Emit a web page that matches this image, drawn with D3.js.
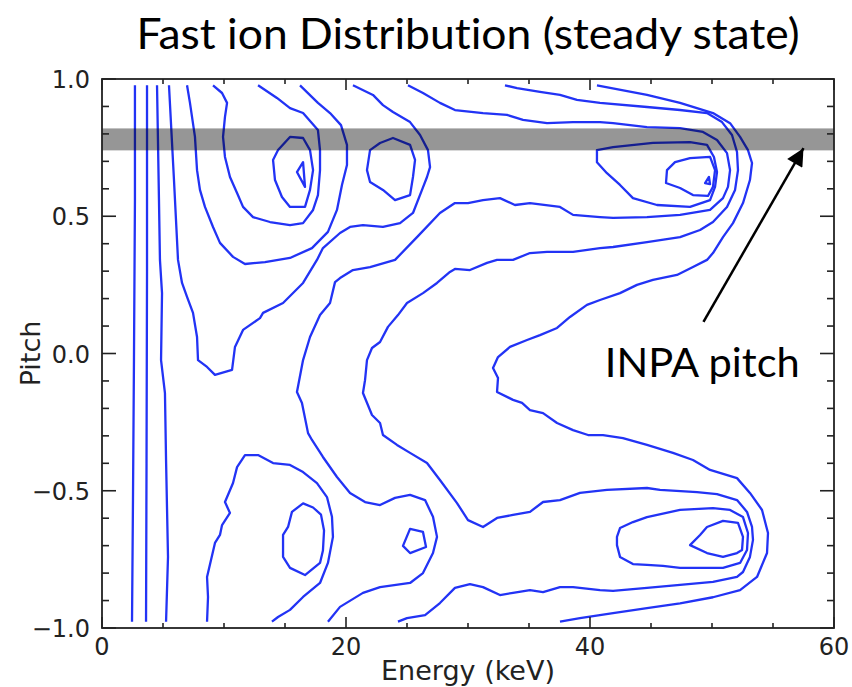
<!DOCTYPE html>
<html>
<head>
<meta charset="utf-8">
<script src="https://cdn.jsdelivr.net/npm/d3@7/dist/d3.min.js"></script>
<style>
  body { margin: 0; background: #fff; }
  text { font-variant-ligatures: none; }
</style>
</head>
<body>
<svg id="chart" width="852" height="687"></svg>
<script>
//***************************************************************************
// Data (energy in keV, pitch)

var energyMajor = [0, 20, 40, 60];
var energyMinor = [5, 10, 15, 25, 30, 35, 45, 50, 55];
var pitchMajor = [-1.0, -0.5, 0.0, 0.5, 1.0];
var pitchMinor = [-0.9, -0.8, -0.7, -0.6, -0.4, -0.3, -0.2, -0.1, 0.1, 0.2, 0.3, 0.4, 0.6, 0.7, 0.8, 0.9];

var inpaBand = [0.74, 0.82];          // pitch range of the grey band
var arrowFrom = [49.3, 0.115];        // energy, pitch
var arrowTo = [57.5, 0.748];
var labelAt = [49.2, -0.086];

// open contours (end on the grid border)
var lowA = [[2.70,0.977],[2.70,0.559],[2.62,-0.024],[2.54,-0.53],[2.46,-0.977]];
var lowB = [[3.69,0.977],[3.69,0.30],[3.65,-0.40],[3.61,-0.977]];
var lowC = [[4.51,0.977],[4.67,0.559],[4.75,0.341],[4.92,0.220],[4.84,-0.024],[5.16,-0.144],[5.25,-0.388],[5.41,-0.741],[5.25,-0.977]];
var upperOuter = [[5.49,0.977],[5.90,0.632],[6.23,0.341],[6.56,0.257],[6.97,0.206],[7.46,0.148],[7.79,0.060],[7.87,-0.024],
  [8.61,-0.049],[9.26,-0.078],[10.66,-0.060],[10.90,0.024],[11.56,0.086],[12.95,0.129],[13.20,0.148],[14.84,0.184],
  [16.48,0.257],[17.62,0.341],[18.11,0.384],[19.51,0.439],[20.33,0.461],[21.39,0.468],[23.03,0.461],[24.43,0.475],
  [25.49,0.512],[26.23,0.596],[26.64,0.643],[26.89,0.679],[26.72,0.741],[26.07,0.796],[25.25,0.843],[23.85,0.880],
  [23.03,0.905],[22.21,0.942],[20.57,0.977]];
var upperLeft1 = [[6.97,0.977],[7.21,0.913],[7.62,0.789],[7.79,0.668],[8.03,0.596],[8.44,0.534],[9.10,0.461],[9.67,0.403],
  [10.74,0.352],[11.72,0.326],[13.36,0.333],[15.41,0.348],[17.21,0.384],[18.52,0.443],[19.26,0.523],[19.67,0.614],
  [20.08,0.687],[20.08,0.760],[19.59,0.832],[18.69,0.876],[17.70,0.913],[16.23,0.977]];
var upperLeft2 = [[9.10,0.977],[9.84,0.949],[10.25,0.913],[10.08,0.862],[9.92,0.789],[10.08,0.716],[10.49,0.643],[11.07,0.585],
  [11.56,0.534],[12.38,0.497],[13.77,0.479],[15.41,0.468],[16.48,0.475],[17.30,0.523],[17.70,0.577],[17.87,0.668],
  [17.87,0.741],[17.70,0.814],[16.48,0.876],[15.41,0.894],[14.34,0.931],[12.79,0.977]];
var rightOuter = [[40.57,0.977],[44.67,0.942],[47.38,0.913],[50.08,0.876],[51.48,0.839],[52.30,0.789],[52.95,0.741],[53.28,0.694],
  [53.11,0.632],[52.54,0.548],[51.72,0.475],[50.90,0.424],[50.08,0.366],[49.59,0.341],[48.44,0.315],[47.13,0.286],
  [45.16,0.268],[43.85,0.250],[42.46,0.220],[40.82,0.195],[39.75,0.177],[38.36,0.133],[37.30,0.093],[35.90,0.067],
  [34.84,0.049],[33.44,0.024],[32.46,-0.013],[32.05,-0.053],[32.46,-0.089],[32.38,-0.140],[33.69,-0.169],[34.43,-0.180],
  [35.08,-0.206],[36.15,-0.217],[37.30,-0.253],[38.61,-0.279],[39.84,-0.297],[41.07,-0.297],[42.70,-0.308],[44.67,-0.333],
  [46.80,-0.362],[48.44,-0.388],[49.84,-0.424],[52.05,-0.454],[53.11,-0.508],[54.10,-0.570],[54.59,-0.654],[54.51,-0.727],
  [53.69,-0.814],[52.30,-0.862],[50.08,-0.888],[47.38,-0.910],[44.67,-0.928],[41.89,-0.946],[39.18,-0.964],[37.54,-0.977]];
var rightMiddle = [[33.03,0.977],[34.02,0.967],[35.90,0.953],[37.54,0.942],[38.93,0.924],[40.82,0.913],[44.67,0.898],[47.38,0.887],
  [49.59,0.876],[50.82,0.843],[51.64,0.796],[52.05,0.734],[52.13,0.668],[51.89,0.596],[51.23,0.534],[50.08,0.479],
  [49.02,0.450],[47.38,0.424],[44.67,0.406],[41.89,0.388],[40.82,0.384],[38.61,0.370],[36.48,0.370],[35.08,0.366],
  [33.69,0.341],[32.38,0.341],[31.56,0.330],[30.16,0.304],[28.93,0.308],[28.52,0.297],[27.46,0.257],[26.31,0.220],
  [25.00,0.184],[24.26,0.140],[23.44,0.097],[22.79,0.042],[22.13,0.020],[21.72,-0.024],[21.56,-0.097],[21.39,-0.144],
  [22.13,-0.224],[22.79,-0.253],[23.03,-0.297],[24.18,-0.333],[25.25,-0.362],[26.64,-0.399],[27.70,-0.461],[29.10,-0.545],
  [30.00,-0.607],[31.23,-0.632],[32.38,-0.599],[33.69,-0.588],[35.08,-0.577],[36.15,-0.541],[37.54,-0.534],[39.18,-0.508],
  [41.39,-0.497],[44.67,-0.490],[45.74,-0.497],[48.77,-0.505],[50.41,-0.512],[52.05,-0.534],[52.87,-0.577],[53.28,-0.632],
  [53.36,-0.679],[53.11,-0.741],[52.54,-0.796],[52.05,-0.814],[50.08,-0.832],[47.38,-0.843],[44.67,-0.854],[41.89,-0.865],
  [40.82,-0.862],[38.61,-0.851],[37.54,-0.851],[36.15,-0.869],[35.08,-0.862],[33.69,-0.872],[32.62,-0.880],[31.23,-0.851],
  [30.16,-0.840],[28.93,-0.854],[27.70,-0.909],[26.48,-0.953],[25.00,-0.964],[24.26,-0.977]];
var rightInner = [[25.08,0.977],[26.31,0.949],[27.70,0.913],[28.93,0.887],[31.23,0.876],[33.20,0.869],[34.51,0.851],[36.48,0.839],
  [38.61,0.843],[40.82,0.843],[41.89,0.839],[44.67,0.825],[47.38,0.821],[49.26,0.807],[50.41,0.778],[51.23,0.730],
  [51.48,0.668],[51.31,0.607],[50.90,0.566],[49.84,0.523],[47.38,0.505],[44.67,0.497],[41.89,0.494],[40.82,0.497],
  [38.61,0.505],[37.54,0.534],[35.08,0.548],[33.85,0.541],[32.62,0.566],[31.23,0.559],[30.00,0.548],[28.93,0.548],
  [27.70,0.512],[25.82,0.424],[24.02,0.341],[21.97,0.315],[20.57,0.304],[19.51,0.275],[19.10,0.260],[18.69,0.184],
  [17.87,0.140],[17.05,0.060],[16.48,-0.024],[15.98,-0.140],[16.39,-0.180],[16.89,-0.290],[17.21,-0.315],[18.11,-0.377],
  [19.26,-0.450],[20.33,-0.508],[21.56,-0.541],[22.79,-0.552],[24.02,-0.526],[25.25,-0.515],[26.48,-0.534],[27.13,-0.595],
  [27.46,-0.668],[27.13,-0.727],[26.31,-0.800],[25.25,-0.836],[22.79,-0.851],[21.39,-0.872],[19.51,-0.923],[18.52,-0.977]];
var lowerLeft1 = [[8.61,-0.977],[8.69,-0.887],[8.61,-0.814],[9.26,-0.690],[9.67,-0.661],[9.84,-0.625],[10.49,-0.581],[10.08,-0.541],
  [10.74,-0.472],[11.07,-0.414],[11.72,-0.370],[12.79,-0.370],[14.02,-0.399],[15.41,-0.406],[16.48,-0.432],[17.62,-0.472],
  [18.44,-0.523],[18.85,-0.595],[18.93,-0.668],[18.52,-0.763],[17.87,-0.836],[16.48,-0.887],[15.41,-0.934],[14.43,-0.960],
  [13.93,-0.977]];

// closed contours
var upperLeft3 = [[15.41,0.789],[16.48,0.785],[17.05,0.741],[17.30,0.668],[17.05,0.596],[16.64,0.534],[15.41,0.534],[14.75,0.570],
  [14.18,0.632],[14.02,0.705],[14.43,0.741]];
var upperLeft4 = [[15.98,0.661],[16.48,0.697],[16.64,0.607]];
var upperSmall = [[21.97,0.741],[22.79,0.767],[23.85,0.785],[25.25,0.760],[25.66,0.705],[25.49,0.643],[25.25,0.577],[24.02,0.559],
  [23.03,0.596],[21.97,0.625],[21.72,0.668]];
var upperRight1 = [[40.57,0.741],[41.89,0.752],[45.16,0.767],[48.20,0.770],[49.59,0.760],[50.16,0.716],[50.41,0.661],[50.25,0.607],
  [49.84,0.559],[48.20,0.534],[45.49,0.541],[43.52,0.566],[42.46,0.614],[41.39,0.657],[40.57,0.697]];
var upperRight2 = [[46.31,0.668],[46.97,0.697],[48.20,0.712],[49.84,0.716],[50.25,0.668],[50.08,0.607],[49.67,0.574],[48.44,0.577],
  [47.38,0.603],[46.23,0.621]];
var upperRight3 = [[49.43,0.621],[49.75,0.643],[49.84,0.617]];
var lowerLeft2 = [[16.48,-0.546],[17.30,-0.561],[17.95,-0.587],[18.20,-0.645],[18.11,-0.718],[17.87,-0.763],[16.64,-0.807],[15.41,-0.781],
  [14.84,-0.741],[14.84,-0.661],[15.25,-0.632],[15.57,-0.577]];
var lowerSmall = [[25.25,-0.639],[26.31,-0.650],[26.56,-0.705],[25.25,-0.727],[24.67,-0.701]];
var lowerRight1 = [[42.21,-0.668],[42.46,-0.636],[43.52,-0.614],[44.67,-0.596],[47.38,-0.570],[50.08,-0.563],[51.48,-0.570],[52.54,-0.596],
  [52.95,-0.654],[52.87,-0.716],[52.30,-0.763],[50.90,-0.781],[47.38,-0.781],[45.98,-0.774],[44.67,-0.770],[43.52,-0.767],
  [42.46,-0.741],[42.21,-0.698]];
var lowerRight2 = [[48.20,-0.698],[49.02,-0.661],[49.59,-0.632],[50.90,-0.610],[52.13,-0.617],[52.54,-0.668],[52.46,-0.716],[52.05,-0.727],
  [50.90,-0.741],[49.59,-0.727]];

var openContours = [lowA, lowB, lowC, upperOuter, upperLeft1, upperLeft2, rightOuter, rightMiddle, rightInner, lowerLeft1];
var closedContours = [upperLeft3, upperLeft4, upperSmall, upperRight1, upperRight2, upperRight3, lowerLeft2, lowerSmall, lowerRight1, lowerRight2];

//***************************************************************************
// Layout

var svg = d3.select("#chart");
var plot = {left: 102, right: 834, top: 79, bottom: 628};

var x = d3.scaleLinear().domain([0, 60]).range([plot.left, plot.right]);
var y = d3.scaleLinear().domain([-1, 1]).range([plot.bottom, plot.top]);

var contourColor = "#2233f5";
var frameColor = "#222";

svg.append("defs").append("clipPath").attr("id", "plotclip")
  .append("rect")
  .attr("x", plot.left).attr("y", plot.top)
  .attr("width", plot.right - plot.left).attr("height", plot.bottom - plot.top);

var g = svg.append("g").attr("clip-path", "url(#plotclip)");

var openLine = d3.line()
  .x(function(d) { return x(d[0]); })
  .y(function(d) { return y(d[1]); });

var closedLine = d3.line()
  .x(function(d) { return x(d[0]); })
  .y(function(d) { return y(d[1]); })
  .curve(d3.curveLinearClosed);

g.selectAll("path.open")
  .data(openContours)
  .enter().append("path")
  .attr("class", "open")
  .attr("d", openLine)
  .attr("fill", "none")
  .attr("stroke", contourColor)
  .attr("stroke-width", 2.3)
  .attr("stroke-linejoin", "round");

g.selectAll("path.closed")
  .data(closedContours)
  .enter().append("path")
  .attr("class", "closed")
  .attr("d", closedLine)
  .attr("fill", "none")
  .attr("stroke", contourColor)
  .attr("stroke-width", 2.3)
  .attr("stroke-linejoin", "round");

// INPA band, translucent, over the contours
g.append("rect")
  .attr("x", plot.left)
  .attr("y", y(inpaBand[1]))
  .attr("width", plot.right - plot.left)
  .attr("height", y(inpaBand[0]) - y(inpaBand[1]))
  .attr("fill", "#000")
  .attr("fill-opacity", 0.41);

//***************************************************************************
// Frame and ticks (pointing inwards on all four sides)

svg.append("rect")
  .attr("x", plot.left).attr("y", plot.top)
  .attr("width", plot.right - plot.left).attr("height", plot.bottom - plot.top)
  .attr("fill", "none").attr("stroke", frameColor).attr("stroke-width", 1.8);

function xTicks(values, len) {
  values.forEach(function(v) {
    svg.append("line").attr("x1", x(v)).attr("x2", x(v))
      .attr("y1", plot.bottom).attr("y2", plot.bottom - len)
      .attr("stroke", frameColor).attr("stroke-width", 1.6);
    svg.append("line").attr("x1", x(v)).attr("x2", x(v))
      .attr("y1", plot.top).attr("y2", plot.top + len)
      .attr("stroke", frameColor).attr("stroke-width", 1.6);
  });
}
function yTicks(values, len) {
  values.forEach(function(v) {
    svg.append("line").attr("y1", y(v)).attr("y2", y(v))
      .attr("x1", plot.left).attr("x2", plot.left + len)
      .attr("stroke", frameColor).attr("stroke-width", 1.6);
    svg.append("line").attr("y1", y(v)).attr("y2", y(v))
      .attr("x1", plot.right).attr("x2", plot.right - len)
      .attr("stroke", frameColor).attr("stroke-width", 1.6);
  });
}
xTicks(energyMajor, 11);
xTicks(energyMinor, 5);
yTicks(pitchMajor, 14);
yTicks(pitchMinor, 7);

svg.selectAll("text.xlab")
  .data(energyMajor)
  .enter().append("text")
  .attr("class", "xlab")
  .attr("x", function(d) { return x(d); })
  .attr("y", plot.bottom + 27)
  .attr("text-anchor", "middle")
  .style("font-family", "DejaVu Sans")
  .style("font-size", "24px")
  .attr("fill", "#222")
  .text(function(d) { return d3.format("d")(d); });

svg.selectAll("text.ylab")
  .data(pitchMajor)
  .enter().append("text")
  .attr("class", "ylab")
  .attr("x", plot.left - 12)
  .attr("y", function(d) { return y(d) + 9; })
  .attr("text-anchor", "end")
  .style("font-family", "DejaVu Sans")
  .style("font-size", "24px")
  .attr("fill", "#222")
  .text(function(d) { return d3.format(".1f")(d).replace("-", "\u2212"); });

svg.append("text")
  .attr("x", (plot.left + plot.right) / 2)
  .attr("y", 680)
  .attr("text-anchor", "middle")
  .style("font-family", "DejaVu Sans")
  .style("font-size", "27px")
  .attr("fill", "#222")
  .text("Energy (keV)");

svg.append("text")
  .attr("transform", "translate(40," + y(0) + ") rotate(-90)")
  .attr("text-anchor", "middle")
  .style("font-family", "DejaVu Sans")
  .style("font-size", "27px")
  .attr("fill", "#222")
  .text("Pitch");

//***************************************************************************
// Title and annotation

svg.append("text")
  .attr("x", 468)
  .attr("y", 49)
  .attr("text-anchor", "middle")
  .attr("textLength", 663)
  .attr("lengthAdjust", "spacingAndGlyphs")
  .style("font-family", "Lato")
  .style("font-size", "43px")
  .attr("fill", "#000")
  .text("Fast ion Distribution (steady state)");

svg.append("defs").append("marker")
  .attr("id", "head")
  .attr("viewBox", "0 0 10 10")
  .attr("refX", 10).attr("refY", 5)
  .attr("markerWidth", 8).attr("markerHeight", 7)
  .attr("markerUnits", "strokeWidth")
  .attr("orient", "auto")
  .append("path")
  .attr("d", "M0,0 L10,5 L0,10 z")
  .attr("fill", "#000");

svg.append("line")
  .attr("x1", x(arrowFrom[0])).attr("y1", y(arrowFrom[1]))
  .attr("x2", x(arrowTo[0])).attr("y2", y(arrowTo[1]))
  .attr("stroke", "#000")
  .attr("stroke-width", 2.5)
  .attr("marker-end", "url(#head)");

svg.append("text")
  .attr("x", x(labelAt[0]))
  .attr("y", y(labelAt[1]))
  .attr("text-anchor", "middle")
  .attr("textLength", 195)
  .attr("lengthAdjust", "spacingAndGlyphs")
  .style("font-family", "Lato")
  .style("font-size", "40px")
  .attr("fill", "#000")
  .text("INPA pitch");
</script>
</body>
</html>
